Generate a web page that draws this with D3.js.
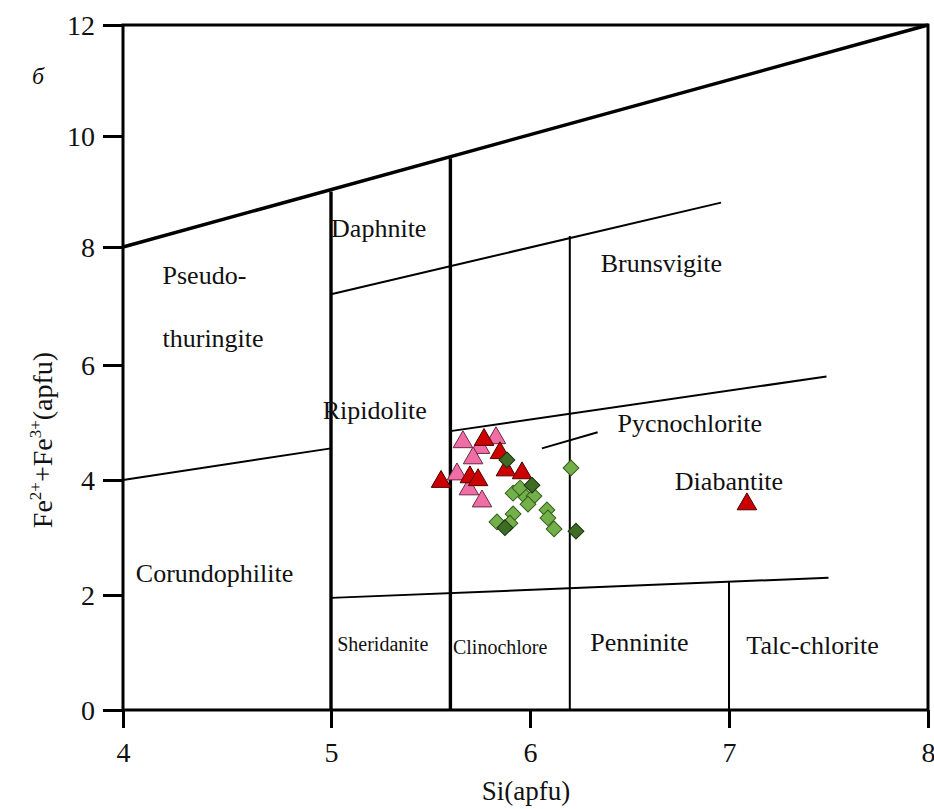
<!DOCTYPE html>
<html>
<head>
<meta charset="utf-8">
<script src="https://cdn.jsdelivr.net/npm/d3@7"></script>
<style>
  body { margin: 0; background: #fff; }
  svg text { font-family: "Liberation Serif", "Times New Roman", serif; fill: #111; }
</style>
</head>
<body>
<svg id="chart" width="934" height="809"></svg>
<script>
// axis ticks
var xTicks = [4, 5, 6, 7, 8];
var yTicks = [0, 2, 4, 6, 8, 10, 12];

// samples, Si vs Fe2+ + Fe3+ (apfu)
var pinkTri = [[5.663, 4.66], [5.829, 4.73], [5.749, 4.56], [5.714, 4.38], [5.633, 4.10], [5.693, 3.84], [5.759, 3.63]];
var redTri = [[5.769, 4.70], [5.849, 4.47], [5.553, 3.97], [5.698, 4.05], [5.739, 4.00], [5.879, 4.17], [5.960, 4.12], [7.09, 3.58]];
var lightDia = [[6.206, 4.21], [5.915, 3.77], [5.950, 3.86], [5.980, 3.70], [6.020, 3.72], [5.990, 3.58], [5.834, 3.27],
                [5.915, 3.41], [5.899, 3.25], [6.085, 3.48], [6.090, 3.34], [6.121, 3.15]];
var darkDia = [[5.884, 4.35], [6.010, 3.91], [5.874, 3.17], [6.231, 3.11]];

// field boundaries
var thickLines = [[[4, 8], [8, 12]], [[5, 0], [5, 9]], [[5.6, 0], [5.6, 9.6]]];
var thinLines = [[[5, 7.2], [6.96, 8.8]], [[5.6, 4.85], [7.49, 5.8]], [[4, 4], [5, 4.55]], [[5, 1.95], [7.5, 2.3]],
                 [[6.2, 0], [6.2, 8.2]], [[7, 0], [7, 2.23]], [[6.06, 4.55], [6.34, 4.83]]];

// field names: [text, x, y, anchor]
var fieldNames = [['Daphnite', 5.24, 8.18, 'middle'], ['Brunsvigite', 6.66, 7.58, 'middle'],
                  ['Pseudo-', 4.19, 7.37, 'start'], ['thuringite', 4.19, 6.3, 'start'],
                  ['Ripidolite', 5.22, 5.06, 'middle'], ['Pycnochlorite', 6.44, 4.83, 'start'],
                  ['Diabantite', 7.0, 3.83, 'middle'], ['Corundophilite', 4.44, 2.23, 'middle'],
                  ['Penninite', 6.55, 1.03, 'middle'], ['Talc-chlorite', 7.42, 0.97, 'middle']];
var smallNames = [['Sheridanite', 5.26, 1.03], ['Clinochlore', 5.85, 0.97]];

var svg = d3.select('#chart');

var x = d3.scaleLinear().domain([4, 5, 8]).range([123, 331, 928]);
var y = d3.scaleLinear().domain([0, 2, 4, 6, 8, 10, 12]).range([710, 595, 480, 365, 247, 136, 25]);
var line = d3.line().x(function (d) { return x(d[0]); }).y(function (d) { return y(d[1]); });

// frame
svg.append('rect')
    .attr('x', x(4)).attr('y', y(12))
    .attr('width', x(8) - x(4)).attr('height', y(0) - y(12))
    .attr('fill', 'none').attr('stroke', '#000').attr('stroke-width', 3);

svg.selectAll('.thin').data(thinLines).enter().append('path')
    .attr('class', 'thin')
    .attr('d', line)
    .attr('fill', 'none').attr('stroke', '#000').attr('stroke-width', 2);

svg.selectAll('.thick').data(thickLines).enter().append('path')
    .attr('class', 'thick')
    .attr('d', line)
    .attr('fill', 'none').attr('stroke', '#000').attr('stroke-width', 3.4);

// axes
var gx = svg.append('g')
    .attr('transform', 'translate(0,' + y(0) + ')')
    .call(d3.axisBottom(x).tickValues(xTicks).tickSize(18).tickPadding(14).tickFormat(d3.format('d')));
var gy = svg.append('g')
    .attr('transform', 'translate(' + x(4) + ',0)')
    .call(d3.axisLeft(y).tickValues(yTicks).tickSize(20).tickPadding(8).tickFormat(d3.format('d')));
svg.selectAll('.domain').remove();
svg.selectAll('.tick line').attr('stroke', '#000').attr('stroke-width', 3);
svg.selectAll('.tick text').style('font-size', '28px').style('font-family', '"Liberation Serif", serif').attr('fill', '#111');
gy.selectAll('.tick text').attr('dy', '0.34em');

// field names
svg.selectAll('.field').data(fieldNames).enter().append('text')
    .attr('class', 'field')
    .attr('x', function (d) { return x(d[1]); })
    .attr('y', function (d) { return y(d[2]); })
    .attr('text-anchor', function (d) { return d[3]; })
    .style('font-size', '26px')
    .text(function (d) { return d[0]; });
svg.selectAll('.small').data(smallNames).enter().append('text')
    .attr('class', 'small')
    .attr('x', function (d) { return x(d[1]); })
    .attr('y', function (d) { return y(d[2]); })
    .attr('text-anchor', 'middle')
    .style('font-size', '20px')
    .text(function (d) { return d[0]; });

// markers
var triangle = d3.symbol().type(d3.symbolTriangle).size(165);
var diamond = d3.symbol().type(d3.symbolSquare).size(125);

function drawTri(data, fill, stroke) {
    svg.append('g').selectAll('path').data(data).enter().append('path')
        .attr('d', triangle)
        .attr('transform', function (d) { return 'translate(' + x(d[0]) + ',' + y(d[1]) + ')'; })
        .attr('fill', fill).attr('stroke', stroke).attr('stroke-width', 1);
}
function drawDia(data, fill, stroke) {
    svg.append('g').selectAll('path').data(data).enter().append('path')
        .attr('d', diamond)
        .attr('transform', function (d) { return 'translate(' + x(d[0]) + ',' + y(d[1]) + ') rotate(45)'; })
        .attr('fill', fill).attr('stroke', stroke).attr('stroke-width', 1);
}
drawTri(pinkTri, '#f06ea6', '#6b2a40');
drawTri(redTri, '#cc0000', '#4a0000');
drawDia(lightDia, '#74b04a', '#355e1c');
drawDia(darkDia, '#3f6c24', '#1c3410');

// axis titles
svg.append('text')
    .attr('x', 526).attr('y', 800)
    .attr('text-anchor', 'middle')
    .style('font-size', '27px')
    .text('Si(apfu)');

var yl = svg.append('text')
    .attr('transform', 'translate(52,' + 440 + ') rotate(-90)')
    .attr('text-anchor', 'middle')
    .style('font-size', '28px');
yl.append('tspan').text('Fe');
yl.append('tspan').attr('dy', -11).style('font-size', '17px').text('2+');
yl.append('tspan').attr('dy', 11).text('+Fe');
yl.append('tspan').attr('dy', -11).style('font-size', '17px').text('3+');
yl.append('tspan').attr('dy', 11).text('(apfu)');

svg.append('text')
    .attr('x', 32).attr('y', 84)
    .style('font-size', '24px')
    .style('font-style', 'italic')
    .text('б');
</script>
</body>
</html>
